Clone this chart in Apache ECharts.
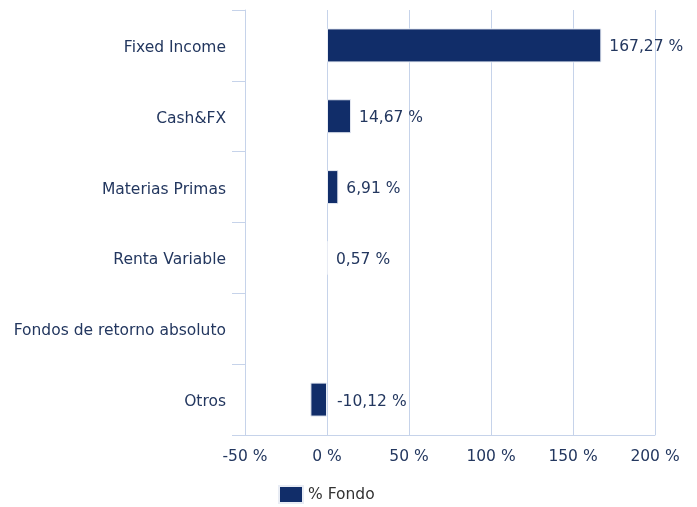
<!DOCTYPE html>
<html>
<head>
<meta charset="utf-8">
<script src="https://cdn.jsdelivr.net/npm/echarts@6/dist/echarts.min.js"></script>
<style>
html,body{margin:0;padding:0;background:#fff;}
#chart{width:697px;height:507px;}
</style>
</head>
<body>
<div id="chart"></div>
<script>
// datos del gráfico
var categorias = ["Fixed Income", "Cash&FX", "Materias Primas", "Renta Variable", "Fondos de retorno absoluto", "Otros"];
var valores = [167.27, 14.67, 6.91, 0.57, null, -10.12];
var ticksX = [-50, 0, 50, 100, 150, 200];
var nombreSerie = "% Fondo";

var colorTexto = "#23375f";
var colorBarra = "#112d69";
var colorLinea = "#c6d3ea";

function formato(v) {
    return v.toFixed(2).replace(".", ",") + " %";
}

// cada punto con su etiqueta (negativos a la derecha del cero)
var datos = [];
for (var i = 0; i < valores.length; i++) {
    if (valores[i] === null) {
        datos.push("-");
        continue;
    }
    var item = {value: valores[i]};
    if (valores[i] < 0) {
        item.label = {position: "insideLeft", offset: [-valores[i] * 1.64 + 2, 2]};
    }
    datos.push(item);
}

var myChart = echarts.init(document.getElementById("chart"));
var option = {
    animation: false,
    textStyle: {fontFamily: "DejaVu Sans"},
    grid: {left: 245, right: 42, top: 10, bottom: 72, containLabel: false},
    legend: {
        data: [nombreSerie],
        top: 480,
        left: 273,
        itemWidth: 24,
        itemHeight: 17,
        itemGap: 6,
        textStyle: {color: "#333333", fontSize: 15.5, fontFamily: "DejaVu Sans"},
        icon: "rect"
    },
    xAxis: {
        type: "value",
        min: ticksX[0],
        max: ticksX[ticksX.length - 1],
        interval: 50,
        axisLine: {show: true, lineStyle: {color: colorLinea}},
        axisTick: {show: false},
        splitLine: {show: true, lineStyle: {color: colorLinea, width: 1}},
        axisLabel: {
            color: colorTexto,
            fontSize: 15.5,
            margin: 14,
            formatter: function (v) { return v + " %"; }
        }
    },
    yAxis: {
        type: "category",
        inverse: true,
        data: categorias,
        axisLine: {show: true, onZero: false, lineStyle: {color: colorLinea}},
        axisTick: {show: true, length: 13, lineStyle: {color: colorLinea}},
        axisLabel: {color: colorTexto, fontSize: 15.5, margin: 19, verticalAlign: "top", lineHeight: 5}
    },
    series: [{
        name: nombreSerie,
        type: "bar",
        data: datos,
        barWidth: 34,
        itemStyle: {color: colorBarra, borderColor: "#e8ecf4", borderWidth: 1},
        label: {
            show: true,
            position: "right",
            distance: 8,
            offset: [0, 2],
            color: colorTexto,
            fontSize: 15.5,
            formatter: function (p) { return formato(p.value); }
        }
    }]
};
myChart.setOption(option);
</script>
</body>
</html>
